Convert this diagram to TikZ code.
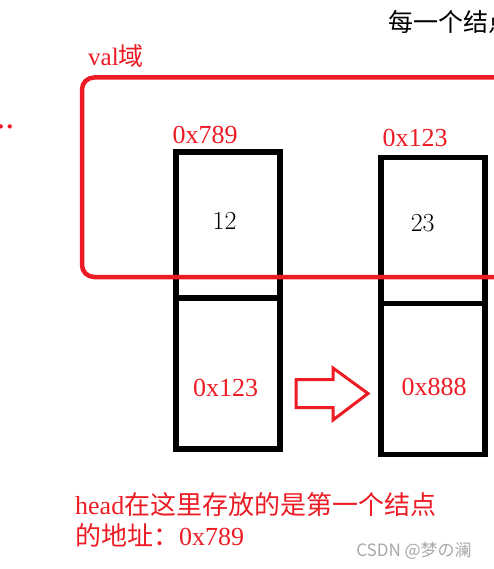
\documentclass[tikz,border=0pt]{standalone}
\usepackage{fontspec}
\newfontfamily\serifr{Liberation Serif}
\newfontfamily\cjk{Noto Sans CJK SC}
\usetikzlibrary{positioning}
\definecolor{cred}{HTML}{ED1C24}
\definecolor{cmark}{HTML}{A8A8A8}

\begin{document}
\begin{tikzpicture}[x=1pt,y=-1pt,
  cell/.style={draw,line width=5.5pt,minimum width=104pt,inner sep=0pt,outer sep=0pt},
  valcell/.style={cell,minimum height=146pt},
  nextcell/.style={cell,minimum height=151pt},
  addr/.style={text=cred,inner sep=0pt,font=\fontsize{26}{30}\selectfont\serifr},
  num/.style={inner sep=0pt,font=\fontsize{26}{30}\selectfont},
  note/.style={text=cred,inner sep=0pt,font=\fontsize{26}{31.5}\selectfont\serifr},
  region/.style={draw=cred,line width=4.5pt,rounded corners=12pt}]
\useasboundingbox (0,0) rectangle (494,569);
\clip (0,0) rectangle (494,569);
\fill[white] (0,0) rectangle (494,569);
\node[inner sep=0pt,anchor=west,font=\fontsize{25}{30}\selectfont\cjk] (title) at (388,22) {每一个结点};
% first node: val + next
\node[valcell] (val1) at (228,225) {};
\node[nextcell,below=0pt of val1] (next1) {};
\node[addr] (addr1) at (205,134.5) {0x789};
\node[num] (num1) at (224.5,220.5) {12};
\node[addr] (ptr1) at (225.5,387.5) {0x123};
% second node
\node[valcell] (val2) at (433,230.5) {};
\node[nextcell,below=0pt of val2] (next2) {};
\node[addr] (addr2) at (415,137.5) {0x123};
\node[num] (num2) at (422.7,223) {23};
\node[addr] (ptr2) at (434,386.7) {0x888};
% val region
\draw[region] (82,77.5) rectangle (540,277);
\node[addr,font=\fontsize{25}{28}\selectfont\serifr] (vallbl) at (116,56) {val{\cjk 域}};
\node[addr,anchor=base east,font=\fontsize{36}{40}\selectfont\serifr] (dots) at (14.5,129) {...};
% hollow arrow
\coordinate (arr) at ([xshift=16pt,yshift=-20pt]next1.east);
\draw[cred,line width=3pt] (arr) ++(0,-14) -- ++(37,0) -- ++(0,-11.5) -- ++(35,25.5)
  -- ++(-35,26.5) -- ++(0,-12.5) -- ++(-37,0) -- cycle;
\node[note,anchor=north west,align=left] (headnote) at (75,492)
  {head{\cjk 在这里存放的是第一个结点}\\{\cjk 的地址：}0x789};
\node[inner sep=0pt,text=cmark,font=\fontsize{17}{20}\selectfont\cjk] (mark) at (414,551) {CSDN @梦の澜};
\end{tikzpicture}
\end{document}
